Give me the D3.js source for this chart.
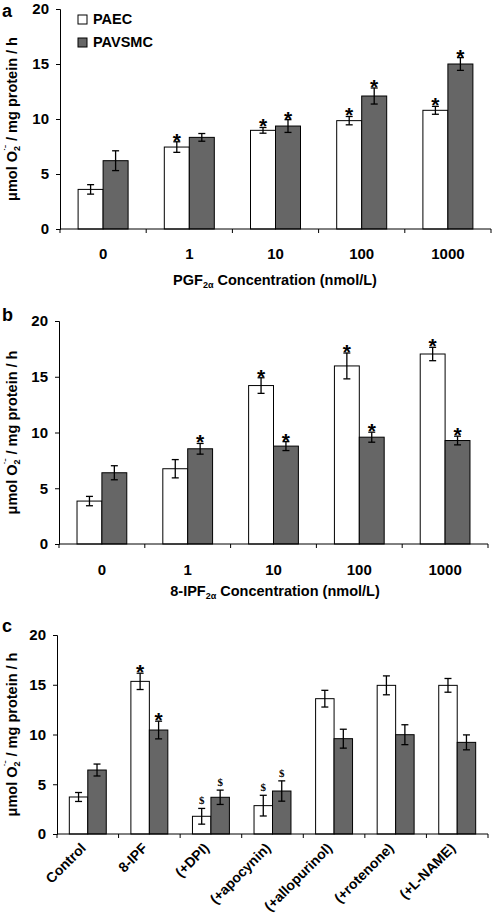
<!DOCTYPE html>
<html><head><meta charset="utf-8">
<script src="https://cdn.jsdelivr.net/npm/d3@7"></script>
<style>
body{margin:0;background:#fff;}
svg{display:block;font-family:"Liberation Sans",Arial,sans-serif;font-weight:bold;}
</style></head>
<body>
<svg id="chart" width="495" height="921"></svg>
<script>
// ---------- data ----------
const seriesNames = ["PAEC", "PAVSMC"];
const yTicks = [0, 5, 10, 15, 20];

const catsA = ["0", "1", "10", "100", "1000"];
const paecA = [3.6, 7.45, 8.97, 9.85, 10.79];
const paecAErr = [0.43, 0.48, 0.26, 0.38, 0.36];
const pavA = [6.21, 8.33, 9.36, 12.09, 15.0];
const pavAErr = [0.9, 0.35, 0.58, 0.73, 0.58];
const paecAMark = ["", "*", "*", "*", "*"];
const pavAMark = ["", "", "*", "*", "*"];

const catsB = ["0", "1", "10", "100", "1000"];
const paecB = [3.85, 6.75, 14.21, 15.97, 17.04];
const paecBErr = [0.42, 0.82, 0.7, 1.16, 0.6];
const pavB = [6.39, 8.54, 8.78, 9.58, 9.28];
const pavBErr = [0.63, 0.48, 0.4, 0.45, 0.39];
const paecBMark = ["", "", "*", "*", "*"];
const pavBMark = ["", "*", "*", "*", "*"];

const catsC = ["Control", "8-IPF", "(+DPI)", "(+apocynin)", "(+allopurinol)", "(+rotenone)", "(+L-NAME)"];
const paecC = [3.72, 15.34, 1.78, 2.85, 13.6, 14.94, 14.94];
const paecCErr = [0.45, 0.82, 0.79, 1.04, 0.84, 0.95, 0.69];
const pavC = [6.43, 10.45, 3.69, 4.32, 9.58, 9.98, 9.21];
const pavCErr = [0.6, 0.89, 0.72, 1.02, 0.95, 1.0, 0.75];
const paecCMark = ["", "*", "$", "$", "", "", ""];
const pavCMark = ["", "*", "$", "$", "", "", ""];

// ---------- drawing ----------
const svg = d3.select("#chart");
const colors = ["#ffffff", "#666666"];

function yLabel(g, x, y) {
  const t = g.append("text").attr("transform", `translate(${x},${y}) rotate(-90)`)
    .attr("text-anchor", "middle").attr("font-size", 14.5);
  t.append("tspan").text("\u03bcmol O");
  t.append("tspan").attr("font-size", 9).attr("dy", 3).text("2");
  t.append("tspan").attr("font-size", 9).attr("dx", -5).attr("dy", -9).text("\u02d9\u02c9");
  t.append("tspan").attr("dy", 6).text(" / mg protein / h");
}

function panel(cfg) {
  const g = svg.append("g");
  const x = d3.scaleBand().domain(cfg.cats).range([cfg.x0, cfg.x1])
    .paddingInner(1 - cfg.group).paddingOuter((1 - cfg.group) / 2);
  const xs = d3.scaleBand().domain(seriesNames).range([0, x.bandwidth()]);
  const y = d3.scaleLinear().domain([0, 20]).range([cfg.yb, cfg.yt]);
  const series = [
    {name: "PAEC", vals: cfg.paec, err: cfg.paecErr, mark: cfg.paecMark},
    {name: "PAVSMC", vals: cfg.pav, err: cfg.pavErr, mark: cfg.pavMark}
  ];
  series.forEach((s, si) => {
    const sg = g.append("g");
    const d = cfg.cats.map((c, i) => ({c, v: s.vals[i], e: s.err[i], m: s.mark[i]}));
    sg.selectAll("rect").data(d).join("rect")
      .attr("x", q => x(q.c) + xs(s.name)).attr("width", xs.bandwidth())
      .attr("y", q => y(q.v)).attr("height", q => y(0) - y(q.v))
      .attr("fill", colors[si]).attr("stroke", "#000").attr("stroke-width", 1);
    const cx = q => x(q.c) + xs(s.name) + xs.bandwidth() / 2;
    const eg = sg.selectAll("g.err").data(d).join("g").attr("class", "err")
      .attr("stroke", "#000").attr("stroke-width", 1.3);
    eg.append("line").attr("x1", cx).attr("x2", cx)
      .attr("y1", q => y(q.v + q.e)).attr("y2", q => y(q.v - q.e));
    eg.append("line").attr("x1", q => cx(q) - 3.5).attr("x2", q => cx(q) + 3.5)
      .attr("y1", q => y(q.v + q.e)).attr("y2", q => y(q.v + q.e));
    eg.append("line").attr("x1", q => cx(q) - 3.5).attr("x2", q => cx(q) + 3.5)
      .attr("y1", q => y(q.v - q.e)).attr("y2", q => y(q.v - q.e));
    sg.selectAll("text.mk").data(d.filter(q => q.m)).join("text").attr("class", "mk")
      .attr("x", cx).attr("text-anchor", "middle")
      .attr("y", q => q.m === "*" ? y(q.v + q.e) + 6 : y(q.v + q.e) - 4)
      .attr("font-size", q => q.m === "*" ? 21 : 11)
      .attr("font-family", q => q.m === "*" ? null : "Liberation Serif, Times New Roman, serif")
      .text(q => q.m);
  });
  // axes
  const ya = d3.axisLeft(y).tickValues(yTicks).tickSize(4).tickPadding(7);
  const yg = g.append("g").attr("transform", `translate(${cfg.x0},0)`).call(ya);
  yg.selectAll("text").attr("font-size", 15).attr("font-family", null).attr("fill", "#000");
  yg.selectAll("line,path").attr("stroke", "#000");
  const xg = g.append("g");
  xg.append("line").attr("x1", cfg.x0).attr("x2", cfg.x1).attr("y1", y(0)).attr("y2", y(0)).attr("stroke", "#000");
  const step = x.step();
  const bounds = d3.range(cfg.cats.length + 1).map(i => cfg.x0 + i * step);
  xg.selectAll("line.tk").data(bounds).join("line").attr("class", "tk")
    .attr("x1", d => d).attr("x2", d => d).attr("y1", y(0)).attr("y2", y(0) + 4).attr("stroke", "#000");
  if (cfg.rotate) {
    xg.selectAll("text.cl").data(cfg.cats).join("text").attr("class", "cl")
      .attr("text-anchor", "end").attr("font-size", 14)
      .attr("transform", d => `translate(${x(d) + x.bandwidth() / 2 - 1},${y(0) + 15}) rotate(-45)`)
      .text(d => d);
  } else {
    xg.selectAll("text.cl").data(cfg.cats).join("text").attr("class", "cl")
      .attr("text-anchor", "middle").attr("font-size", 15)
      .attr("x", d => x(d) + x.bandwidth() / 2).attr("y", y(0) + cfg.tickDy)
      .text(d => d);
  }
  yLabel(g, 17, (cfg.yt + cfg.yb) / 2);
  g.append("text").attr("x", 2).attr("y", cfg.labelY).attr("font-size", 18).text(cfg.label);
  if (cfg.title) {
    const t = g.append("text").attr("x", 275).attr("y", cfg.titleY).attr("text-anchor", "middle").attr("font-size", 14.5);
    t.append("tspan").text(cfg.title);
    t.append("tspan").attr("font-size", 9).attr("dy", 3).text("2\u03b1");
    t.append("tspan").attr("dy", -3).text(" Concentration (nmol/L)");
  }
  return {x, y};
}

panel({cats: catsA, paec: paecA, paecErr: paecAErr, pav: pavA, pavErr: pavAErr,
  paecMark: paecAMark, pavMark: pavAMark, x0: 60, x1: 491, yt: 9, yb: 229, group: 0.58,
  tickDy: 30, label: "a", labelY: 17, title: "PGF", titleY: 285});
panel({cats: catsB, paec: paecB, paecErr: paecBErr, pav: pavB, pavErr: pavBErr,
  paecMark: paecBMark, pavMark: pavBMark, x0: 59, x1: 488, yt: 321, yb: 544, group: 0.58,
  tickDy: 31, label: "b", labelY: 321, title: "8-IPF", titleY: 596});
panel({cats: catsC, paec: paecC, paecErr: paecCErr, pav: pavC, pavErr: pavCErr,
  paecMark: paecCMark, pavMark: pavCMark, x0: 57, x1: 488, yt: 635, yb: 834, group: 0.6,
  rotate: true, label: "c", labelY: 632});

// legend
const lg = svg.append("g");
seriesNames.forEach((n, i) => {
  lg.append("rect").attr("x", 78).attr("y", 15 + i * 23).attr("width", 9).attr("height", 9)
    .attr("fill", colors[i]).attr("stroke", "#000").attr("stroke-width", 1);
  lg.append("text").attr("x", 93).attr("y", 24 + i * 23).attr("font-size", 14.5).text(n);
});
</script>
</body></html>
